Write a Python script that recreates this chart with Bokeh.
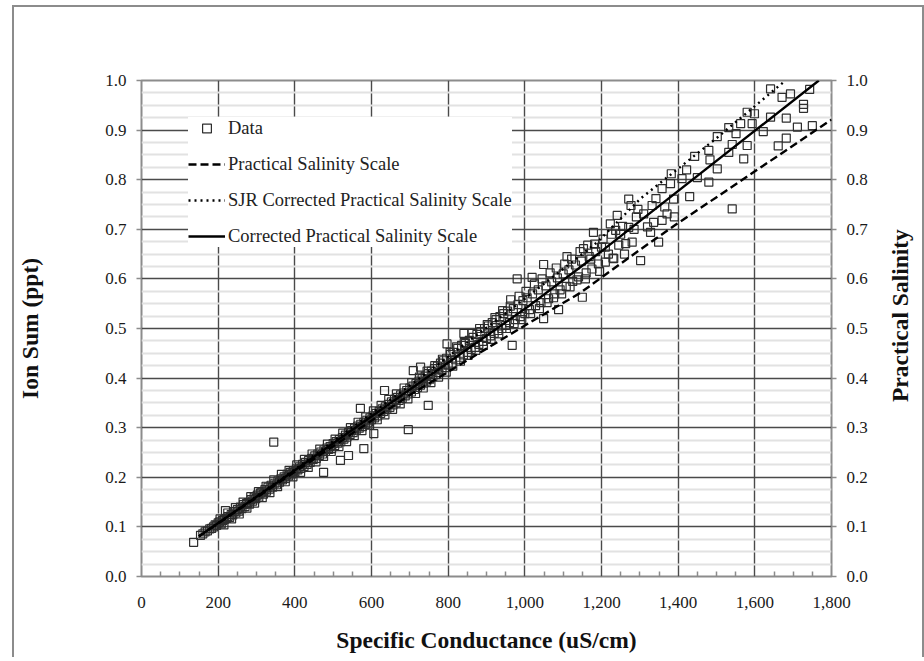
import math
from bokeh.plotting import figure
from bokeh.layouts import row
from bokeh.core.properties import value
from bokeh.models import (LinearAxis, FixedTicker, NumeralTickFormatter, Legend, LegendItem, Range1d,
                          ColumnDataSource)
from bokeh.embed import file_html
from bokeh.resources import INLINE

# ---------------- data ----------------
x_ticks = [0, 200, 400, 600, 800, 1000, 1200, 1400, 1600, 1800]
x_minor = [50, 100, 150, 250, 300, 350, 450, 500, 550, 650, 700, 750, 850, 900, 950,
           1050, 1100, 1150, 1250, 1300, 1350, 1450, 1500, 1550, 1650, 1700, 1750]
y_ticks = [0.0, 0.1, 0.2, 0.3, 0.4, 0.5, 0.6, 0.7, 0.8, 0.9, 1.0]
y_minor = [0.025, 0.05, 0.075, 0.125, 0.15, 0.175, 0.225, 0.25, 0.275, 0.325, 0.35, 0.375,
           0.425, 0.45, 0.475, 0.525, 0.55, 0.575, 0.625, 0.65, 0.675, 0.725, 0.75, 0.775,
           0.825, 0.85, 0.875, 0.925, 0.95, 0.975]

# Practical Salinity Scale (dashed)
pss_x = [150, 400, 700, 1015, 1145, 1297, 1397, 1800]
pss_y = [0.081, 0.211, 0.366, 0.513, 0.572, 0.657, 0.711, 0.921]
# SJR Corrected Practical Salinity Scale (dotted)
sjr_x = [150, 400, 700, 1000, 1189, 1302, 1502, 1680]
sjr_y = [0.081, 0.216, 0.385, 0.560, 0.674, 0.762, 0.885, 1.0]
# Corrected Practical Salinity Scale (solid)
cor_x = [150, 400, 700, 1006, 1197, 1767]
cor_y = [0.081, 0.214, 0.377, 0.543, 0.654, 1.0]

# Measured data (specific conductance, ion sum)
data_x = [136, 154, 160, 166, 172, 178, 183, 188, 192, 196, 200, 204, 208, 212, 216, 219, 222, 226, 230, 234,
          238, 242, 246, 250, 254, 258, 262, 266, 270, 274, 278, 282, 286, 290, 294, 298, 302, 306, 310, 314,
          318, 322, 326, 330, 334, 338, 342, 345, 348, 352, 356, 360, 364, 368, 372, 376, 380, 384, 388, 392,
          396, 400, 404, 408, 412, 416, 420, 424, 428, 432, 436, 440, 444, 448, 452, 456, 460, 464, 468, 472,
          475, 476, 480, 484, 488, 492, 496, 500, 504, 508, 512, 516, 519, 520, 524, 528, 532, 536, 540, 540,
          544, 548, 552, 556, 560, 564, 568, 571, 572, 576, 580, 580, 584, 588, 592, 596, 600, 604, 606, 608,
          612, 616, 620, 624, 628, 632, 634, 636, 640, 644, 648, 652, 656, 660, 664, 668, 672, 676, 680, 684,
          688, 692, 696, 696, 700, 704, 708, 709, 712, 716, 720, 724, 728, 728, 732, 736, 740, 744, 748, 748,
          752, 756, 760, 764, 768, 772, 776, 780, 784, 788, 792, 797, 796, 800,
          806, 810, 815, 820, 825, 830, 835, 841, 840, 845, 850, 855, 860, 865, 870, 875, 880, 885, 890, 895,
          900, 905, 910, 915, 920, 925, 930, 935, 940, 945, 950, 955, 963, 960, 967, 970, 975, 980, 982, 988,
          995, 1000, 1006, 1012, 1019, 1020, 1028, 1035, 1042, 1049, 1049, 1055, 1062, 1070, 1078, 1088, 1085,
          1092, 1100, 1110, 1108, 1115, 1125, 1132, 1140, 1150, 1153, 1148, 1160, 1168, 1179, 1175, 1185, 1192,
          1200, 1210, 1210, 1223, 1230, 1232, 1237, 1241, 1250, 1263, 1271, 1271, 1277, 1280, 1291, 1302, 1310,
          1328, 1332, 1336, 1349, 1358, 1358, 1371, 1380, 1382, 1388, 1390, 1410, 1422, 1430, 1443, 1450, 1480,
          1480, 1483, 1502, 1502, 1532, 1532, 1541, 1541, 1551, 1563, 1571, 1580, 1580, 1593, 1599, 1622, 1641,
          1641, 1661, 1671, 1682, 1682, 1693, 1711, 1727, 1727, 1743, 1750,
          205, 215, 225, 235, 245, 255, 265, 275, 285, 295, 305, 315, 325, 335, 345, 355, 365, 375, 385, 395,
          405, 415, 425, 435, 445, 455, 465, 475, 485, 495, 505, 515, 525, 535, 545, 555, 565, 575, 585, 595,
          605, 615, 625, 635, 645, 655, 665, 675, 685, 695, 705, 715, 725, 735, 745, 755, 765, 775, 785, 795,
          805, 812, 822, 832, 842, 852, 862, 872, 882, 892, 902, 912, 922, 932, 942, 952, 962, 972, 985, 992,
          1003, 1015, 1025, 1038, 1045, 1058, 1066, 1075, 1082, 1096, 1104, 1118, 1122, 1136, 1144, 1158, 1164,
          1172, 1182, 1195, 1204, 1218, 1226, 1245, 1255, 1260, 1285, 1295, 1320, 1342, 1365]
data_y = [0.069, 0.083, 0.086, 0.090, 0.092, 0.096, 0.097, 0.100, 0.104, 0.103, 0.108, 0.110, 0.106, 0.113, 0.115, 0.133, 0.117, 0.121, 0.119, 0.125,
          0.124, 0.131, 0.128, 0.135, 0.132, 0.140, 0.137, 0.145, 0.141, 0.147, 0.149, 0.146, 0.155, 0.152, 0.160, 0.157, 0.164, 0.160, 0.168, 0.170,
          0.166, 0.175, 0.172, 0.180, 0.176, 0.184, 0.180, 0.271, 0.188, 0.185, 0.193, 0.190, 0.197, 0.195, 0.201, 0.198, 0.206, 0.203, 0.210, 0.207,
          0.213, 0.211, 0.217, 0.215, 0.221, 0.218, 0.226, 0.222, 0.230, 0.226, 0.234, 0.230, 0.238, 0.236, 0.243, 0.238, 0.247, 0.244, 0.251, 0.247,
          0.210, 0.255, 0.252, 0.259, 0.256, 0.262, 0.258, 0.268, 0.264, 0.272, 0.269, 0.276, 0.234, 0.272, 0.280, 0.277, 0.285, 0.281, 0.244, 0.290,
          0.286, 0.294, 0.290, 0.299, 0.295, 0.303, 0.299, 0.339, 0.307, 0.302, 0.258, 0.311, 0.306, 0.315, 0.311, 0.320, 0.316, 0.324, 0.288, 0.320,
          0.329, 0.324, 0.333, 0.329, 0.338, 0.333, 0.375, 0.342, 0.337, 0.347, 0.341, 0.352, 0.346, 0.357, 0.350, 0.361, 0.355, 0.366, 0.359, 0.370,
          0.364, 0.375, 0.296, 0.368, 0.380, 0.372, 0.384, 0.415, 0.377, 0.389, 0.381, 0.394, 0.422, 0.386, 0.399, 0.390, 0.404, 0.394, 0.345, 0.409,
          0.398, 0.414, 0.403, 0.419, 0.407, 0.424, 0.411, 0.430, 0.416, 0.435, 0.421, 0.469, 0.440, 0.426,
          0.448, 0.430, 0.452, 0.437, 0.460, 0.442, 0.466, 0.490, 0.447, 0.470, 0.452, 0.476, 0.458, 0.482, 0.462, 0.488, 0.468, 0.494, 0.474, 0.500,
          0.480, 0.505, 0.485, 0.512, 0.490, 0.518, 0.496, 0.524, 0.500, 0.530, 0.506, 0.535, 0.558, 0.512, 0.466, 0.540, 0.518, 0.600, 0.548, 0.524,
          0.556, 0.530, 0.562, 0.538, 0.603, 0.570, 0.546, 0.578, 0.552, 0.629, 0.520, 0.586, 0.560, 0.594, 0.570, 0.538, 0.602,
          0.578, 0.610, 0.645, 0.585, 0.618, 0.595, 0.628, 0.604, 0.563, 0.661, 0.636, 0.612, 0.645, 0.694, 0.620, 0.655, 0.630,
          0.664, 0.664, 0.634, 0.711, 0.642, 0.641, 0.698, 0.728, 0.690, 0.671, 0.704, 0.761, 0.748, 0.674, 0.725, 0.637, 0.731,
          0.694, 0.748, 0.714, 0.674, 0.718, 0.782, 0.731, 0.792, 0.812, 0.761, 0.725, 0.802, 0.820, 0.766, 0.847, 0.804, 0.795,
          0.859, 0.840, 0.822, 0.887, 0.905, 0.855, 0.871, 0.741, 0.893, 0.913, 0.842, 0.936, 0.869, 0.913, 0.933, 0.897, 0.926,
          0.983, 0.868, 0.966, 0.924, 0.884, 0.973, 0.906, 0.952, 0.944, 0.982, 0.909,
          0.116, 0.104, 0.128, 0.116, 0.139, 0.126, 0.150, 0.138, 0.161, 0.148, 0.171, 0.159, 0.182, 0.169, 0.195, 0.181, 0.206, 0.191, 0.214, 0.201,
          0.225, 0.210, 0.236, 0.220, 0.247, 0.231, 0.257, 0.242, 0.267, 0.252, 0.277, 0.262, 0.289, 0.272, 0.300, 0.284, 0.311, 0.294, 0.322, 0.305,
          0.334, 0.316, 0.345, 0.326, 0.357, 0.337, 0.368, 0.348, 0.380, 0.358, 0.391, 0.369, 0.402, 0.380, 0.414, 0.391, 0.425, 0.402, 0.438, 0.412,
          0.452, 0.424, 0.463, 0.434, 0.472, 0.446, 0.490, 0.456, 0.500, 0.466, 0.508, 0.478, 0.522, 0.489, 0.536, 0.500, 0.545, 0.510, 0.565, 0.518,
          0.575, 0.530, 0.590, 0.540, 0.600, 0.552, 0.612, 0.562, 0.622, 0.570, 0.630, 0.584, 0.640, 0.598, 0.655, 0.600, 0.668,
          0.640, 0.670, 0.615, 0.680, 0.650, 0.690, 0.668, 0.706, 0.650, 0.700, 0.740, 0.705, 0.762, 0.745]

right_title = ["Practical Salinity"]

# ---------------- figure ----------------
FONT = "Liberation Serif"
GRID = "#4a4a4a"
FRAME = "#8c8c8c"

p = figure(frame_width=690, frame_height=496,
           x_range=Range1d(0, 1800), y_range=Range1d(0, 1.0),
           output_backend="svg", toolbar_location=None,
           min_border_left=127, min_border_top=73, min_border_right=50, min_border_bottom=81)
p.background_fill_color = "white"
p.border_fill_color = "white"
p.outline_line_color = FRAME
p.outline_line_width = 2

# grids
p.xgrid.ticker = FixedTicker(ticks=x_ticks)
p.xgrid.grid_line_color = GRID
p.xgrid.grid_line_width = 1.4
p.ygrid.ticker = FixedTicker(ticks=y_ticks, minor_ticks=y_minor)
p.ygrid.grid_line_color = GRID
p.ygrid.grid_line_width = 1.4
p.ygrid.minor_grid_line_color = "#e2e2e2"
p.ygrid.minor_grid_line_width = 2

# data
src = ColumnDataSource(dict(x=data_x, y=data_y))
r_data = p.scatter("x", "y", source=src, marker="square", size=8,
                   fill_color=None, line_color="#2e2e2e", line_width=1.2)
r_pss = p.line(pss_x, pss_y, line_color="black", line_width=2.4, line_dash="8 4")
r_sjr = p.line(sjr_x, sjr_y, line_color="black", line_width=2.4, line_dash="2 4")
r_cor = p.line(cor_x, cor_y, line_color="black", line_width=2.4)

# axes
def style_axis(ax):
    ax.axis_line_color = None
    ax.major_label_text_font = FONT
    ax.major_label_text_font_size = "17px"
    ax.major_label_text_color = "#1a1a1a"
    ax.axis_label_text_font = FONT
    ax.axis_label_text_font_style = "bold"
    ax.axis_label_text_font_size = "23.5px"
    ax.axis_label_text_color = "#111111"
    ax.major_tick_line_color = FRAME
    ax.minor_tick_line_color = FRAME
    ax.major_tick_line_width = 1.5
    ax.minor_tick_line_width = 1.5

xa = p.xaxis[0]
xa.ticker = FixedTicker(ticks=x_ticks, minor_ticks=x_minor)
xa.formatter = NumeralTickFormatter(format="0,0")
xa.axis_label = "Specific Conductance (uS/cm)"
style_axis(xa)
xa.major_tick_in = 0
xa.major_tick_out = 0
xa.minor_tick_in = 5
xa.minor_tick_out = 0
xa.major_label_standoff = 20
xa.axis_label_standoff = 16

ya = p.yaxis[0]
ya.ticker = FixedTicker(ticks=y_ticks)
ya.formatter = NumeralTickFormatter(format="0.0")
ya.axis_label = "Ion Sum (ppt)"
style_axis(ya)
ya.major_tick_in = 0
ya.major_tick_out = 5
ya.minor_tick_in = 0
ya.minor_tick_out = 0
ya.major_label_standoff = 10
ya.axis_label_standoff = 59

# right axis with ticks and tick labels
ra = LinearAxis(ticker=FixedTicker(ticks=y_ticks), formatter=NumeralTickFormatter(format="0.0"))
style_axis(ra)
ra.major_tick_in = 0
ra.major_tick_out = 5
ra.minor_tick_in = 0
ra.minor_tick_out = 0
ra.major_label_standoff = 10
p.add_layout(ra, "right")

# legend
legend = Legend(items=[
    LegendItem(label="Data", renderers=[r_data]),
    LegendItem(label="Practical Salinity Scale", renderers=[r_pss]),
    LegendItem(label="SJR Corrected Practical Salinity Scale", renderers=[r_sjr]),
    LegendItem(label="Corrected Practical Salinity Scale", renderers=[r_cor]),
], location=(47, 329))
legend.label_text_font = FONT
legend.label_text_font_size = "18.5px"
legend.label_text_color = "#222222"
legend.glyph_width = 37
legend.glyph_height = 22
legend.label_height = 22
legend.label_standoff = 3
legend.spacing = 14
legend.padding = 10
legend.margin = 0
legend.border_line_color = None
legend.background_fill_color = "white"
legend.background_fill_alpha = 1.0
p.add_layout(legend)

# narrow strip holding the right-hand title (reads bottom-to-top)
p2 = figure(width=41, height=650, x_range=Range1d(0, 1), y_range=Range1d(0, 1),
            output_backend="svg", toolbar_location=None, min_border=0,
            x_axis_location=None, y_axis_location=None)
p2.outline_line_color = None
p2.grid.visible = False
p2.background_fill_color = "white"
p2.border_fill_color = "white"
p2.text(x=[0.45], y=[0.526], text=right_title, angle=math.pi / 2,
        text_align="center", text_baseline="middle",
        text_font=value(FONT), text_font_style="bold", text_font_size="23.5px",
        text_color="#111111")

layout = row(p, p2, margin=(5, 0, 0, 12))
layout.styles = {"border-left": "2px solid #8c8c8c", "border-top": "2px solid #8c8c8c",
                 "border-right": "2px solid #8c8c8c"}

open("out.html", "w").write(file_html(layout, INLINE))
